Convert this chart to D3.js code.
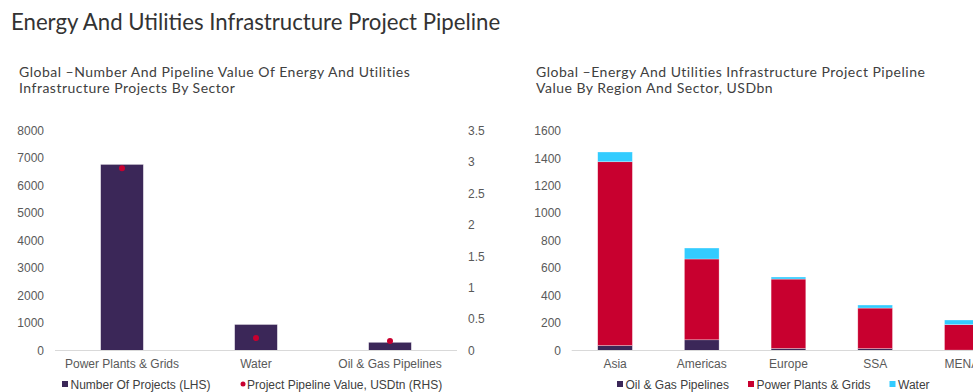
<!DOCTYPE html>
<html>
<head>
<meta charset="utf-8">
<script src="https://cdn.jsdelivr.net/npm/d3@7"></script>
<style>
  body { margin: 0; background: #fff; }
  svg { display: block; }
  .title { font-family: Lato, sans-serif; fill: #333; }
  .sub { font-family: Lato, sans-serif; fill: #404040; font-size: 14px; letter-spacing: 0.5px; }
  .tick text, .lab { font-family: "Liberation Sans", Arial, sans-serif; fill: #595959; font-size: 12px; }
  .leg { font-family: "Liberation Sans", Arial, sans-serif; fill: #404040; font-size: 12px; }
</style>
</head>
<body>
<div id="chart"></div>
<script>
// left chart data
const sectors = ['Power Plants & Grids', 'Water', 'Oil & Gas Pipelines'];
const projectCount = [6770, 950, 300];
const pipelineValue = [2.9, 0.2, 0.15];
const leftTicks = [0, 1000, 2000, 3000, 4000, 5000, 6000, 7000, 8000];
const rightTicks = [0, 0.5, 1, 1.5, 2, 2.5, 3, 3.5];

// right chart data
const regions = ['Asia', 'Americas', 'Europe', 'SSA', 'MENA'];
const oilGas = [36, 78, 15, 14, 3];
const powerGrids = [1338, 588, 505, 295, 185];
const water = [71, 80, 15, 22, 34];
const regionTicks = [0, 200, 400, 600, 800, 1000, 1200, 1400, 1600];

const purple = '#3b2758', red = '#c8002f', cyan = '#33ccff';

const W = 973, H = 392;
const svg = d3.select('#chart').append('svg').attr('width', W).attr('height', H);

svg.append('text').attr('class', 'title').attr('x', 11).attr('y', 30)
  .style('font-size', '22.2px')
  .text('Energy And Utilities Infrastructure Project Pipeline');

function subtitle(x, lines) {
  lines.forEach(function(l, i) {
    svg.append('text').attr('class', 'sub').attr('x', x).attr('y', 77 + i * 16).text(l);
  });
}
subtitle(19, ['Global \u2013Number And Pipeline Value Of Energy And Utilities', 'Infrastructure Projects By Sector']);
subtitle(536, ['Global \u2013Energy And Utilities Infrastructure Project Pipeline', 'Value By Region And Sector, USDbn']);

// ---------- left chart ----------
const x1 = d3.scaleBand().domain(sectors).range([55, 457]).paddingInner(0.68).paddingOuter(0.34);
const y1 = d3.scaleLinear().domain([0, 8000]).range([350.5, 130.5]);
const y1r = d3.scaleLinear().domain([0, 3.5]).range([350.5, 130.5]);

const g1 = svg.append('g');
g1.append('g').attr('transform', 'translate(50,0)')
  .call(d3.axisLeft(y1).tickValues(leftTicks).tickSize(0).tickPadding(6).tickFormat(d3.format('d')))
  .call(g => g.select('.domain').remove());
g1.append('g').attr('transform', 'translate(462,0)')
  .call(d3.axisRight(y1r).tickValues(rightTicks).tickSize(0).tickPadding(6).tickFormat(d => d))
  .call(g => g.select('.domain').remove());

g1.selectAll('rect.bar').data(sectors).enter().append('rect')
  .attr('x', d => x1(d)).attr('width', x1.bandwidth())
  .attr('y', (d, i) => y1(projectCount[i]))
  .attr('height', (d, i) => y1(0) - y1(projectCount[i]))
  .attr('fill', purple).attr('stroke', '#fff').attr('stroke-opacity', 0.6).attr('stroke-width', 0.8);

g1.append('line').attr('x1', 55).attr('x2', 457).attr('y1', 350.5).attr('y2', 350.5)
  .attr('stroke', '#d9d9d9');

g1.selectAll('circle.pt').data(sectors).enter().append('circle')
  .attr('cx', d => x1(d) + x1.bandwidth() / 2)
  .attr('cy', (d, i) => y1r(pipelineValue[i]))
  .attr('r', 3).attr('fill', red);

g1.append('g').attr('transform', 'translate(0,350.5)')
  .call(d3.axisBottom(x1).tickSize(0).tickPadding(9))
  .call(g => g.select('.domain').remove());

// left legend
g1.append('rect').attr('x', 62).attr('y', 381).attr('width', 6).attr('height', 6).attr('fill', purple);
g1.append('text').attr('class', 'leg').attr('x', 70.5).attr('y', 388.5).text('Number Of Projects (LHS)');
g1.append('circle').attr('cx', 243).attr('cy', 384).attr('r', 2.5).attr('fill', red);
g1.append('text').attr('class', 'leg').attr('x', 247).attr('y', 388.5).text('Project Pipeline Value, USDtn (RHS)');

// ---------- right chart ----------
const x2 = d3.scaleBand().domain(regions).range([571.7, 1005.2]).paddingInner(0.6).paddingOuter(0.3);
const y2 = d3.scaleLinear().domain([0, 1600]).range([350.5, 130.7]);

const g2 = svg.append('g');
g2.append('g').attr('transform', 'translate(567,0)')
  .call(d3.axisLeft(y2).tickValues(regionTicks).tickSize(0).tickPadding(6).tickFormat(d3.format('d')))
  .call(g => g.select('.domain').remove());

const keys = ['oil', 'power', 'water'];
const rows = regions.map((r, i) => ({ region: r, oil: oilGas[i], power: powerGrids[i], water: water[i] }));
const stacked = d3.stack().keys(keys)(rows);
const colors = { oil: purple, power: red, water: cyan };

g2.selectAll('g.layer').data(stacked).enter().append('g')
  .attr('fill', d => colors[d.key])
  .selectAll('rect').data(d => d).enter().append('rect')
  .attr('x', d => x2(d.data.region)).attr('width', x2.bandwidth())
  .attr('y', d => y2(d[1])).attr('height', d => y2(d[0]) - y2(d[1]))
  .attr('stroke', '#fff').attr('stroke-opacity', 0.5).attr('stroke-width', 0.6);

g2.append('line').attr('x1', 571.7).attr('x2', W).attr('y1', 350.5).attr('y2', 350.5)
  .attr('stroke', '#d9d9d9');

g2.append('g').attr('transform', 'translate(0,350.5)')
  .call(d3.axisBottom(x2).tickSize(0).tickPadding(9))
  .call(g => g.select('.domain').remove());

// right legend
const legItems = [
  { label: 'Oil & Gas Pipelines', c: purple, x: 617 },
  { label: 'Power Plants & Grids', c: red, x: 748 },
  { label: 'Water', c: cyan, x: 889.5 }
];
legItems.forEach(function(l) {
  g2.append('rect').attr('x', l.x).attr('y', 381).attr('width', 6).attr('height', 6).attr('fill', l.c);
  g2.append('text').attr('class', 'leg').attr('x', l.x + 8.5).attr('y', 388.5).text(l.label);
});
</script>
</body>
</html>
